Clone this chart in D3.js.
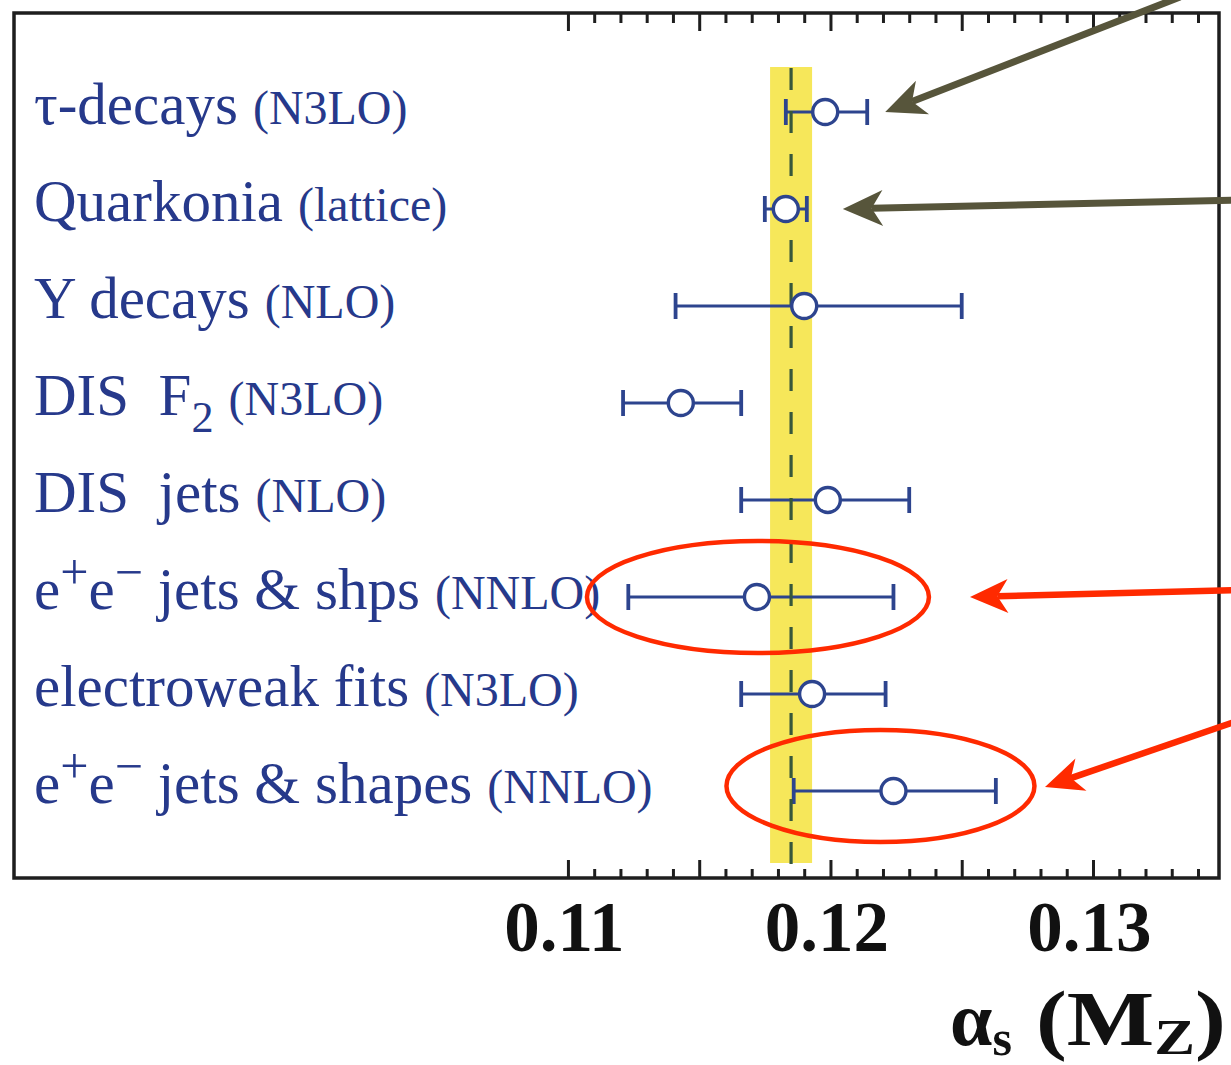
<!DOCTYPE html>
<html>
<head>
<meta charset="utf-8">
<script src="https://cdn.jsdelivr.net/npm/d3@7"></script>
<style>
  body { margin: 0; background: #ffffff; }
  svg { display: block; }
  text { white-space: pre; }
</style>
</head>
<body>
<svg id="chart" width="1231" height="1065"></svg>
<script>
// Measurement labels; ^c marks a superscript character, _c a subscript one
const mainLabels = ["τ-decays", "Quarkonia", "Υ decays", "DIS  F_2", "DIS  jets",
                    "e^+e^− jets & shps", "electroweak fits", "e^+e^− jets & shapes"];
const orderLabels = ["(N3LO)", "(lattice)", "(NLO)", "(N3LO)", "(NLO)", "(NNLO)", "(N3LO)", "(NNLO)"];

// alpha_s(M_Z) central values and asymmetric uncertainties
const centralValues = [0.1198, 0.1183, 0.1190, 0.1143, 0.1199, 0.1172, 0.1193, 0.1224];
const lowerErrors   = [0.0015, 0.0008, 0.0049, 0.0022, 0.0033, 0.0049, 0.0027, 0.0038];
const upperErrors   = [0.0016, 0.0008, 0.0060, 0.0023, 0.0031, 0.0052, 0.0028, 0.0039];

// World average and its uncertainty band
const worldAverage = 0.1185;
const worldAverageError = 0.0008;

// Axis ticks
const majorTicks = [0.110, 0.115, 0.120, 0.125, 0.130];
const minorTicks = [0.111, 0.112, 0.113, 0.114, 0.116, 0.117, 0.118, 0.119,
                    0.121, 0.122, 0.123, 0.124, 0.126, 0.127, 0.128, 0.129,
                    0.131, 0.132, 0.133, 0.134];
const tickLabelValues = [0.11, 0.12, 0.13];
const tickLabels = ["0.11", "0.12", "0.13"];

const rows = mainLabels.map((m, i) => ({
  i, main: m, order: orderLabels[i],
  v: centralValues[i], lo: centralValues[i] - lowerErrors[i], hi: centralValues[i] + upperErrors[i]
}));

const svg = d3.select("#chart");
const frame = { left: 14, top: 13, right: 1219, bottom: 878 };

const x = d3.scaleLinear().domain([0.0889, 0.1348]).range([frame.left, frame.right]);
const y = d3.scalePoint().domain(d3.range(rows.length)).range([112, 791]);

const markBlue = "#2d448e";
const textBlue = "#26398b";
const serif = "'Liberation Serif', 'Times New Roman', serif";

// World-average band and central line
svg.append("rect")
  .attr("x", x(worldAverage - worldAverageError))
  .attr("width", x(worldAverage + worldAverageError) - x(worldAverage - worldAverageError))
  .attr("y", 67).attr("height", 863 - 67)
  .attr("fill", "#f6e75a");

// Error bars
const bars = svg.append("g").attr("stroke", markBlue).attr("fill", "none");
bars.selectAll("line.bar").data(rows).join("line")
  .attr("class", "bar")
  .attr("x1", d => x(d.lo)).attr("x2", d => x(d.hi))
  .attr("y1", d => y(d.i)).attr("y2", d => y(d.i))
  .attr("stroke-width", 3.2);
bars.selectAll("line.capl").data(rows).join("line")
  .attr("class", "capl")
  .attr("x1", d => x(d.lo)).attr("x2", d => x(d.lo))
  .attr("y1", d => y(d.i) - 13).attr("y2", d => y(d.i) + 13)
  .attr("stroke-width", 3.8);
bars.selectAll("line.caph").data(rows).join("line")
  .attr("class", "caph")
  .attr("x1", d => x(d.hi)).attr("x2", d => x(d.hi))
  .attr("y1", d => y(d.i) - 13).attr("y2", d => y(d.i) + 13)
  .attr("stroke-width", 3.8);

// Dashed world-average line
svg.append("line")
  .attr("x1", x(worldAverage)).attr("x2", x(worldAverage))
  .attr("y1", 68).attr("y2", 870)
  .attr("stroke", "#37573b").attr("stroke-width", 3.2)
  .attr("stroke-dasharray", "22 21");

// Open circles at the central values
svg.append("g").selectAll("circle").data(rows).join("circle")
  .attr("cx", d => x(d.v)).attr("cy", d => y(d.i)).attr("r", 12.5)
  .attr("fill", "#ffffff").attr("stroke", markBlue).attr("stroke-width", 3.4);

// Writes a string into a text element, turning ^c / _c into raised / lowered characters
function richText(sel, str, size, supScale, subScale, subDrop) {
  let shift = 0;
  for (let k = 0; k < str.length; k++) {
    const c = str[k];
    if ((c === "^" || c === "_") && k + 1 < str.length) {
      const ch = str[k + 1];
      const dy = c === "^" ? -size * 0.34 : size * subDrop;
      sel.append("tspan").attr("dy", dy - shift)
        .attr("font-size", size * (c === "^" ? supScale : subScale)).text(ch);
      shift = dy;
      k++;
    } else {
      let run = "";
      while (k < str.length && str[k] !== "^" && str[k] !== "_") { run += str[k]; k++; }
      k--;
      sel.append("tspan").attr("dy", -shift).attr("font-size", size).text(run);
      shift = 0;
    }
  }
  return shift;
}

const labels = svg.append("g").attr("fill", textBlue).attr("font-family", serif);
rows.forEach(d => {
  const t = labels.append("text").attr("x", 34).attr("y", y(d.i) + 12);
  const shift = richText(t, d.main, 59, 0.85, 0.75, 0.28);
  t.append("tspan").attr("dx", 15).attr("dy", -shift).attr("font-size", 48).text(d.order);
});

// Frame
svg.append("rect")
  .attr("x", frame.left).attr("y", frame.top)
  .attr("width", frame.right - frame.left).attr("height", frame.bottom - frame.top)
  .attr("fill", "none").attr("stroke", "#1e1e1e").attr("stroke-width", 3.5);

// Inward ticks on bottom and top
function tickAxis(axisFn, yPos, values, size) {
  const g = svg.append("g").attr("transform", `translate(0,${yPos})`)
    .call(axisFn(x).tickValues(values).tickSize(-size).tickFormat(() => ""));
  g.select(".domain").remove();
  g.selectAll(".tick line").attr("stroke", "#1e1e1e").attr("stroke-width", 3);
  return g;
}
tickAxis(d3.axisBottom, frame.bottom, minorTicks, 9);
tickAxis(d3.axisBottom, frame.bottom, majorTicks, 18);
tickAxis(d3.axisTop, frame.top, minorTicks, 10);
tickAxis(d3.axisTop, frame.top, majorTicks, 18);

// Tick labels
const labelAxis = svg.append("g").attr("transform", `translate(0,${frame.bottom})`)
  .call(d3.axisBottom(x).tickValues(tickLabelValues).tickSize(0).tickPadding(23)
    .tickFormat((d, i) => tickLabels[i]));
labelAxis.select(".domain").remove();
labelAxis.selectAll(".tick text")
  .attr("font-family", serif).attr("font-weight", "bold")
  .attr("font-size", 71).attr("fill", "#111111").attr("dx", -4);

// Axis title: alpha_s(M_Z)
const titleA = svg.append("text").attr("x", 950).attr("y", 1045)
  .attr("font-family", serif).attr("font-weight", "bold").attr("fill", "#111111");
richText(titleA, "α_s", 76, 0.7, 0.66, 0.13);
const titleB = svg.append("text").attr("x", 1036).attr("y", 1045)
  .attr("font-family", serif).attr("font-weight", "bold").attr("fill", "#111111")
  .attr("textLength", 190).attr("lengthAdjust", "spacingAndGlyphs");
richText(titleB, "(M_Z)", 78, 0.7, 0.66, 0.12);

// Annotations: arrows and ellipses
function arrow(x0, y0, x1, y1, color, width, headLen, headHalf) {
  const dx = x1 - x0, dy = y1 - y0, len = Math.hypot(dx, dy);
  const ux = dx / len, uy = dy / len, px = -uy, py = ux;
  const bx = x1 - ux * headLen, by = y1 - uy * headLen;
  const nx = x1 - ux * headLen * 0.72, ny = y1 - uy * headLen * 0.72;
  svg.append("line").attr("x1", x0).attr("y1", y0).attr("x2", nx).attr("y2", ny)
    .attr("stroke", color).attr("stroke-width", width);
  svg.append("path")
    .attr("d", `M${x1},${y1}L${bx + px * headHalf},${by + py * headHalf}L${nx},${ny}L${bx - px * headHalf},${by - py * headHalf}Z`)
    .attr("fill", color);
}

const gray = "#57553b";
const red = "#ff2a00";

arrow(1180, -3, x(rows[0].hi) + 18, y(0), gray, 7, 40, 18);
arrow(1240, 200, x(rows[1].hi) + 36, y(1), gray, 7, 40, 18);

svg.append("ellipse")
  .attr("cx", x(rows[5].v) + 1).attr("cy", y(5)).attr("rx", 171).attr("ry", 56)
  .attr("fill", "none").attr("stroke", red).attr("stroke-width", 4.5);
svg.append("ellipse")
  .attr("cx", x(rows[7].v) - 13).attr("cy", y(7) - 5).attr("rx", 154).attr("ry", 56)
  .attr("fill", "none").attr("stroke", red).attr("stroke-width", 4.5);

arrow(1240, 590, 970, y(5), red, 6.5, 38, 17);
arrow(1240, 720, 1045, y(7) - 4, red, 6.5, 38, 17);
</script>
</body>
</html>
